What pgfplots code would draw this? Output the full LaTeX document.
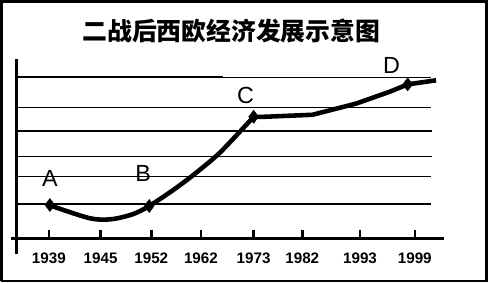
\documentclass[border=0pt]{standalone}
\usepackage{pgfplots}
\pgfplotsset{compat=1.18}
\usepackage{fontspec}
\setmainfont{Liberation Sans}
\newfontfamily\cjk{Noto Sans CJK SC}
\begin{document}
\begin{tikzpicture}
\begin{axis}[
  scale only axis, width=488pt, height=289pt,
  xmin=0, xmax=488, ymin=0, ymax=289,
  axis lines=none, clip=false,
]
% frame
\addplot[black, line width=2.5pt] coordinates {(3,7) (482,7) (482,283) (3,283) (3,7)};
% grid lines
\addplot[black, line width=2pt] coordinates {(20,208) (222,208)};
\addplot[black, line width=1.2pt] coordinates {(222,208) (427,208)};
\addplot[black, line width=1.2pt] coordinates {(20,178) (427,178)};
\addplot[black, line width=1.2pt] coordinates {(20,155) (428,155)};
\addplot[black, line width=1.2pt] coordinates {(20,130) (428,130)};
\addplot[black, line width=1.2pt] coordinates {(20,110) (427,110)};
\addplot[black, line width=1.2pt] coordinates {(20,83) (427,83)};
% axes
\addplot[black, line width=3pt] coordinates {(18,226) (18,34)};
\addplot[black, line width=3pt] coordinates {(13,49) (440,49)};
% ticks
\addplot[black, line width=2.5pt] coordinates {(50,49) (50,57)};
\addplot[black, line width=2.5pt] coordinates {(101,49) (101,57)};
\addplot[black, line width=2.5pt] coordinates {(151,49) (151,57)};
\addplot[black, line width=2.5pt] coordinates {(200,49) (200,57)};
\addplot[black, line width=2.5pt] coordinates {(252,49) (252,57)};
\addplot[black, line width=2.5pt] coordinates {(300,49) (300,57)};
\addplot[black, line width=2.5pt] coordinates {(357,49) (357,57)};
\addplot[black, line width=2.5pt] coordinates {(411,49) (411,57)};
% curve
\addplot[black, line width=4.5pt, smooth, tension=0.5] coordinates {
 (50,82) (90,69) (112,68) (133,73) (149,81) (173,97) (193,112) (217,132) (240,156) (252,169)
};
\addplot[black, line width=4.5pt] coordinates {
 (252,169) (262,169) (310,171) (353,182) (387,194) (404,201) (432,205)
};
% markers
\addplot[black, only marks, mark=diamond*, mark size=6.5pt] coordinates {(51,82) (149,81) (252,169) (404,201)};
% labels
\node[font=\fontsize{23}{23}\selectfont] at (axis cs:51,108) {A};
\node[font=\fontsize{23}{23}\selectfont] at (axis cs:143,113) {B};
\node[font=\fontsize{23}{23}\selectfont] at (axis cs:244,190) {C};
\node[font=\fontsize{23}{23}\selectfont] at (axis cs:388,220) {D};
\node[font=\fontsize{24.5}{24.5}\selectfont\cjk\bfseries] at (axis cs:230,254) {二战后西欧经济发展示意图};
\node[font=\fontsize{15}{15}\selectfont\bfseries] at (axis cs:50,29) {1939};
\node[font=\fontsize{15}{15}\selectfont\bfseries] at (axis cs:101,29) {1945};
\node[font=\fontsize{15}{15}\selectfont\bfseries] at (axis cs:151,29) {1952};
\node[font=\fontsize{15}{15}\selectfont\bfseries] at (axis cs:200,29) {1962};
\node[font=\fontsize{15}{15}\selectfont\bfseries] at (axis cs:252,29) {1973};
\node[font=\fontsize{15}{15}\selectfont\bfseries] at (axis cs:300,29) {1982};
\node[font=\fontsize{15}{15}\selectfont\bfseries] at (axis cs:357,29) {1993};
\node[font=\fontsize{15}{15}\selectfont\bfseries] at (axis cs:411,29) {1999};
\end{axis}
\end{tikzpicture}
\end{document}
